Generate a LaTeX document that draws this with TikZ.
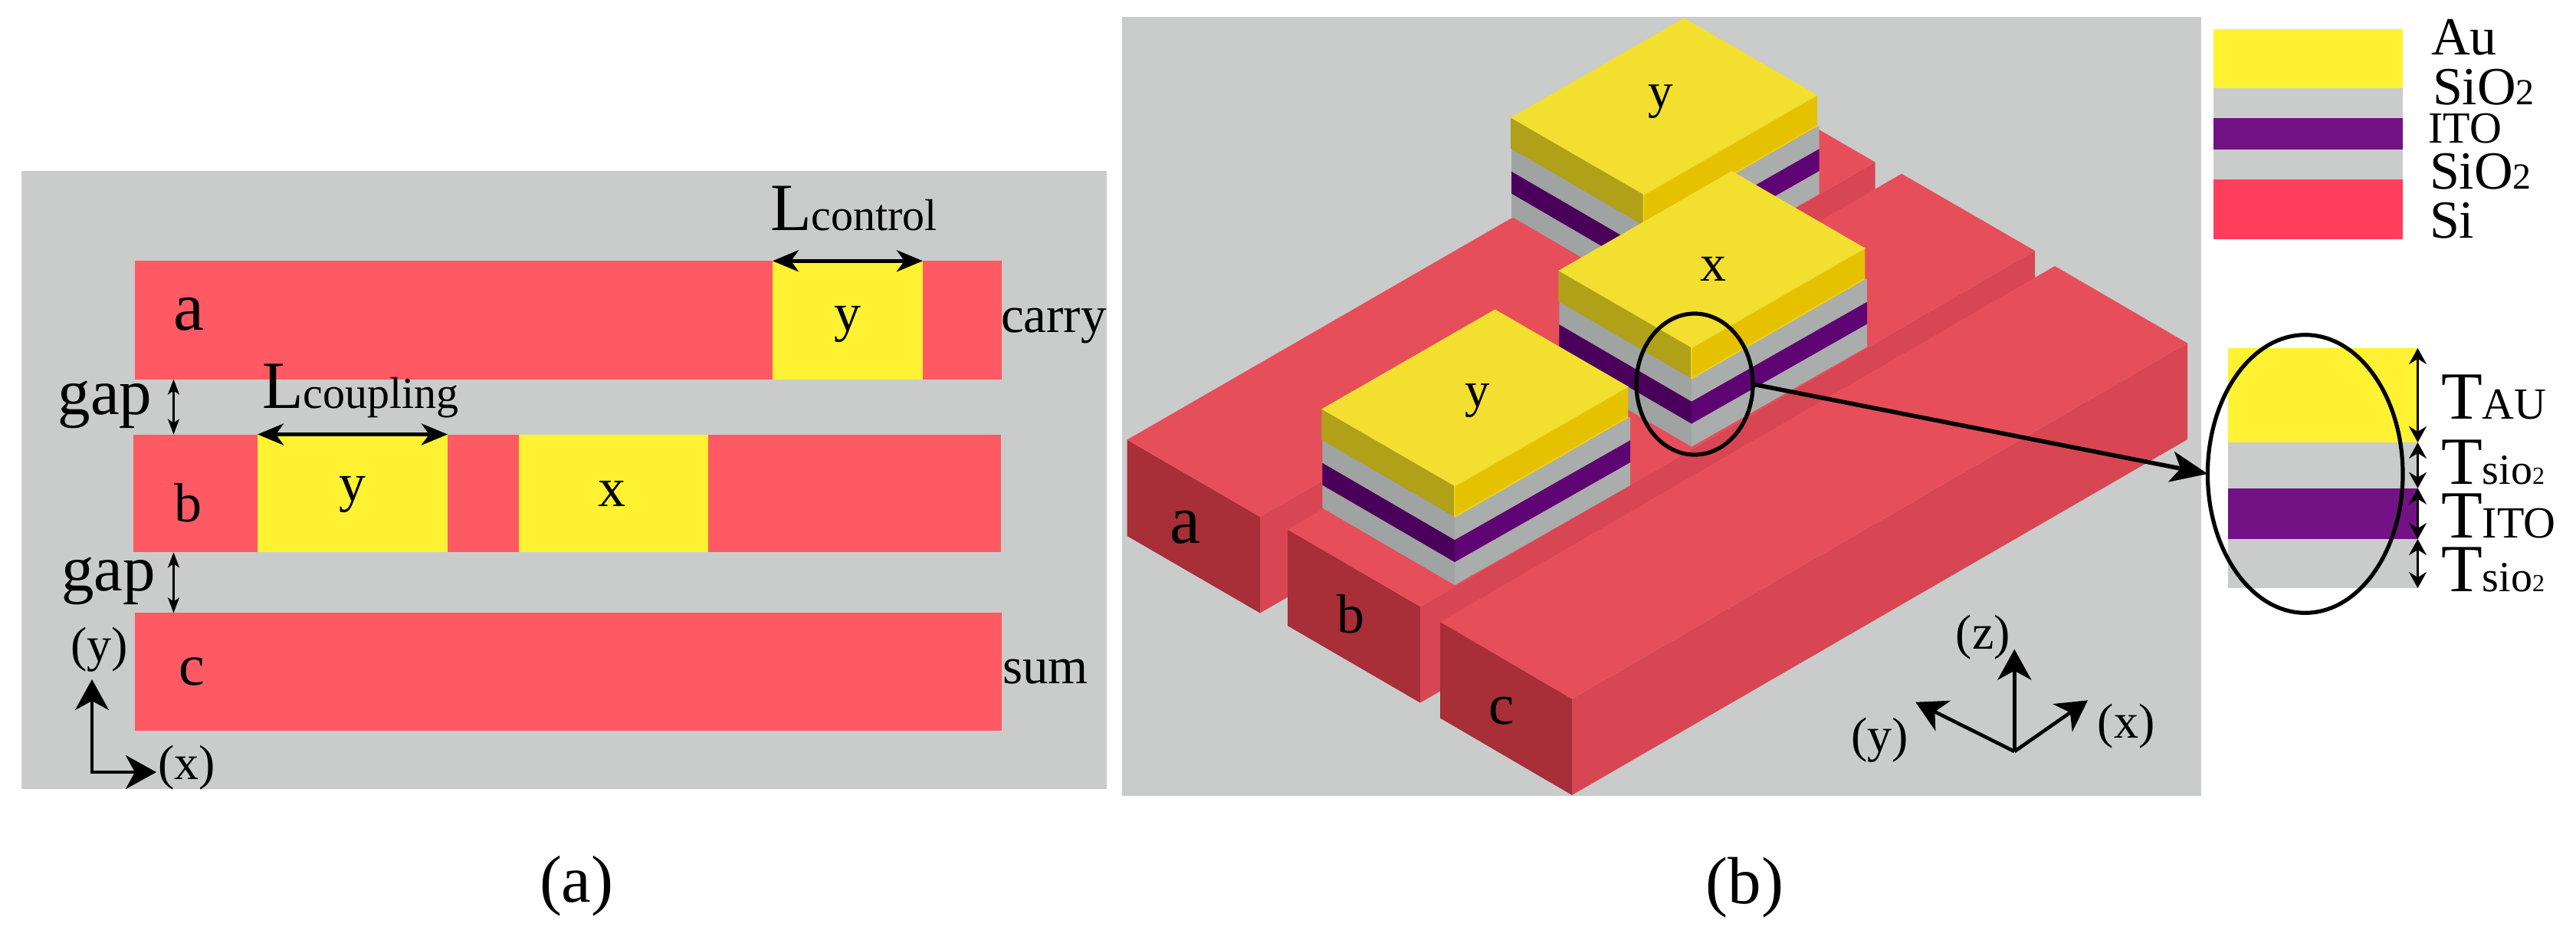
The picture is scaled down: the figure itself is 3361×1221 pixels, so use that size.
\documentclass[tikz,border=0pt]{standalone}
\usepackage{fontspec}
\setmainfont{Liberation Serif}
\usetikzlibrary{arrows.meta,shapes.geometric}
\newcommand\px[1]{\fontsize{\the\dimexpr#1pt/2\relax}{\the\dimexpr#1pt/2\relax}\selectfont}
\definecolor{panelgray}{HTML}{C9CCCB}
\definecolor{flatred}{HTML}{FF5A64}
\definecolor{flatyellow}{HTML}{FFF233}
\definecolor{legpurple}{HTML}{721285}
\definecolor{legred}{HTML}{FF3D5C}
\definecolor{redtop}{HTML}{E64E5A}
\definecolor{redside}{HTML}{D74652}
\definecolor{redfront}{HTML}{A82E38}
\definecolor{goldtop}{HTML}{F2DF30}
\definecolor{goldleft}{HTML}{B0A118}
\definecolor{goldright}{HTML}{E5C100}
\definecolor{goldedge}{HTML}{E8D21E}
\definecolor{grayleft}{HTML}{9FA3A2}
\definecolor{grayright}{HTML}{A9ADAC}
\definecolor{purpleleft}{HTML}{4A005A}
\definecolor{purpleright}{HTML}{5F0573}
\tikzset{
  lab/.style={inner sep=0pt,outer sep=0pt,anchor=base west,text=black},
  cen/.style={inner sep=0pt,outer sep=0pt,anchor=base,text=black},
  bigdim/.style={line width=2.6pt,{Stealth[length=17pt,width=14pt,inset=5pt]}-{Stealth[length=17pt,width=14pt,inset=5pt]}},
  smalldim/.style={line width=1.3pt,{Stealth[length=10pt,width=7.5pt,inset=2.5pt]}-{Stealth[length=10pt,width=7.5pt,inset=2.5pt]}},
  layerdim/.style={line width=1.3pt,{Stealth[length=10.5pt,width=11.5pt,inset=3.5pt]}-{Stealth[length=10.5pt,width=11.5pt,inset=3.5pt]}},
  axis/.style={line width=2.3pt,-{Stealth[length=20pt,width=22pt,inset=6pt]}},
  ring/.style={draw=black,ellipse,inner sep=0pt,outer sep=0pt,line width=2.6pt},
  pointer/.style={line width=2.8pt,-{Stealth[length=24pt,width=20pt,inset=6pt]}}
}
% one layer of a stack, local coordinates from the front corner
\newcommand\stacklayer[4]{%
  \fill[#3] (-172.7,{-100.5+#1}) -- (0,#1) -- (0,#2) -- (-172.7,{-100.5+#2}) -- cycle;
  \fill[#4] (0,#1) -- (229,{-130+#1}) -- (229,{-130+#2}) -- (0,#2) -- cycle;
}
\newcommand\stackat[2]{%
  \begin{scope}[shift={(#1,#2)}]
    \stacklayer{99}{129}{grayleft}{grayright}
    \stacklayer{70}{99}{purpleleft}{purpleright}
    \stacklayer{40}{70}{grayleft}{grayright}
    \fill[goldleft] (-173.7,-100.5) -- (0,0) -- (0,40) -- (-173.7,-60.5) -- cycle;
    \fill[goldright] (0,0) -- (226.3,-130) -- (226.3,-90) -- (0,40) -- cycle;
    \draw[goldedge,line width=1pt] (0,40) -- (0,0) -- (226.3,-130);
    \draw[goldedge,line width=1pt] (0,40) -- (226.3,-90);
    \fill[goldtop] (-173.7,-100.5) -- (52.6,-230.5) -- (226.3,-130) -- (0,0) -- cycle;
  \end{scope}}
% a bar: front-left-top, front-right-top, far-right-top, far-left-top
\newcommand\barat[8]{%
  \fill[redfront] (#1,#2) -- (#3,#4) -- (#3,{#4+125.5}) -- (#1,{#2+125.5}) -- cycle;
  \fill[redside] (#3,#4) -- (#5,#6) -- (#5,{#6+125.5}) -- (#3,{#4+125.5}) -- cycle;
  \fill[redtop] (#1,#2) -- (#3,#4) -- (#5,#6) -- (#7,#8) -- cycle;
}
\begin{document}
\begin{tikzpicture}[x=0.5pt,y=-0.5pt]
\useasboundingbox (0,0) rectangle (3361,1221);
\fill[white] (0,0) rectangle (3361,1221);

% ---------- panel (a)
\fill[panelgray] (28,222.5) rectangle (1444,1029);
\fill[flatred] (175.6,340.3) rectangle (1307,494.6);
\fill[flatred] (173.7,566.5) rectangle (1306,720.3);
\fill[flatred] (175.6,799.4) rectangle (1307,953.2);
\fill[flatyellow] (1008,340.3) rectangle (1204,494.6);
\fill[flatyellow] (336,566.5) rectangle (584,720.3);
\fill[flatyellow] (677,566.5) rectangle (924,720.3);

\node[cen] (la) at (246,430) {\px{90}a};
\node[cen] (lb) at (245,680) {\px{72}b};
\node[cen] (lc) at (250,893) {\px{76}c};
\node[cen] (ya) at (1106,431) {\px{70}y};
\node[cen] (yb) at (460,653) {\px{70}y};
\node[cen] (xb) at (798,660) {\px{72}x};
\node[lab] (carry) at (1306,433) {\px{67}carry};
\node[lab] (sum) at (1308,891) {\px{67}sum};
\node[lab] (gapa) at (75.5,540) {\px{85}gap};
\node[lab] (gapb) at (80,770) {\px{85}gap};
\node[lab] (lcontrol) at (1005,300) {\px{88}L\px{58}control};
\node[lab] (lcoupling) at (342,532) {\px{88}L\px{58}coupling};
\node[lab] (ay) at (92.5,862) {\px{64}(y)};
\node[lab] (ax) at (206,1016.6) {\px{64}(x)};

\coordinate (cl) at (1008,340.3); \coordinate (cr) at (1204,340.3);
\coordinate (pl) at (336,566.5);  \coordinate (pr) at (584,566.5);
\coordinate (gat) at (226.5,494.6); \coordinate (gab) at (226.5,566.5);
\coordinate (gbt) at (226.5,720.3); \coordinate (gbb) at (226.5,799.4);
\coordinate (o2) at (120,1007); \coordinate (o2y) at (120,886); \coordinate (o2x) at (204,1007);
\draw[bigdim] (cl) -- (cr);
\draw[bigdim] (pl) -- (pr);
\draw[smalldim] (gat) -- (gab);
\draw[smalldim] (gbt) -- (gbb);
\draw[axis] ([yshift=1.1pt]o2) -- (o2y);
\draw[axis] ([xshift=-1.1pt]o2) -- (o2x);

% ---------- panel (b)
\fill[panelgray] (1464,22) rectangle (2871.6,1038);
\barat{1470.6}{573.5}{1644}{674}{2446.6}{211.5}{2273}{111}
\barat{1680}{690.6}{1853}{791}{2655}{327}{2481}{226.6}
\barat{1879}{811}{2051}{911.4}{2854}{447.6}{2681}{347}
\stackat{2144.7}{253.9}
\stackat{2207}{453.5}
\stackat{1898}{634}

\node[cen] (ytop) at (2167,140) {\px{65}y};
\node[cen] (xmid) at (2235,366) {\px{68}x};
\node[cen] (ybot) at (1928,530) {\px{65}y};
\node[cen] (ba) at (1546,708) {\px{90}a};
\node[cen] (bb) at (1762,825) {\px{72}b};
\node[cen] (bc) at (1959,944) {\px{75}c};

\coordinate (o3) at (2628.3,980);
\coordinate (o3z) at (2628.3,846.7);
\coordinate (o3x) at (2724,913.3);
\coordinate (o3y) at (2499.3,915.7);
\draw[axis] (o3) -- (o3z);
\draw[axis] (o3) -- (o3x);
\draw[axis] (o3) -- (o3y);
\node[lab] (bz) at (2551.7,846.7) {\px{64}(z)};
\node[lab] (bx) at (2736.7,962.7) {\px{64}(x)};
\node[lab] (by) at (2415,980) {\px{64}(y)};

% ---------- legend
\fill[flatyellow] (2888,37.6) rectangle (3135,114.7);
\fill[panelgray] (2888,114.7) rectangle (3135,154);
\fill[legpurple] (2888,154) rectangle (3135,195);
\fill[panelgray] (2888,195) rectangle (3135,234);
\fill[legred] (2888,234) rectangle (3135,311.6);
\node[lab] (lau) at (3172,71) {\px{70}Au};
\node[lab] (lsa) at (3174,136) {\px{70}SiO\px{48}2};
\node[lab] (lito) at (3168.5,186.6) {\px{58}ITO};
\node[lab] (lsb) at (3170,246) {\px{70}SiO\px{48}2};
\node[lab] (lsi) at (3170,310) {\px{70}Si};

% ---------- inset
\fill[flatyellow] (2906.6,454) rectangle (3154.5,577);
\fill[panelgray] (2906.6,577) rectangle (3154.5,636.7);
\fill[legpurple] (2906.6,636.7) rectangle (3154.5,703);
\fill[panelgray] (2906.6,703) rectangle (3154.5,767);

\node[ring,minimum width=76pt,minimum height=92pt] (small) at (2211,501) {};
\node[ring,minimum width=127.3pt,minimum height=181.3pt] (big) at (3007.7,618) {};
\draw[pointer] (small.east) -- (big.west);

\coordinate (d0) at (3154.5,454); \coordinate (d1) at (3154.5,577);
\coordinate (d2) at (3154.5,636.7); \coordinate (d3) at (3154.5,703);
\coordinate (d4) at (3154.5,767);
\draw[layerdim] (d0) -- (d1);
\draw[layerdim] (d1) -- (d2);
\draw[layerdim] (d2) -- (d3);
\draw[layerdim] (d3) -- (d4);

\node[lab] (tau) at (3185,546.7) {\px{88}T\px{58}AU};
\node[lab] (tsa) at (3185,631.7) {\px{88}T\px{56}sio\px{32}2};
\node[lab] (tito) at (3185,701.7) {\px{88}T\px{58}ITO};
\node[lab] (tsb) at (3185,771.7) {\px{88}T\px{56}sio\px{32}2};

% ---------- captions
\node[lab] (capa) at (704,1176.7) {\px{87}(a)};
\node[lab] (capb) at (2225.7,1178) {\px{87}(b)};
\end{tikzpicture}
\end{document}
